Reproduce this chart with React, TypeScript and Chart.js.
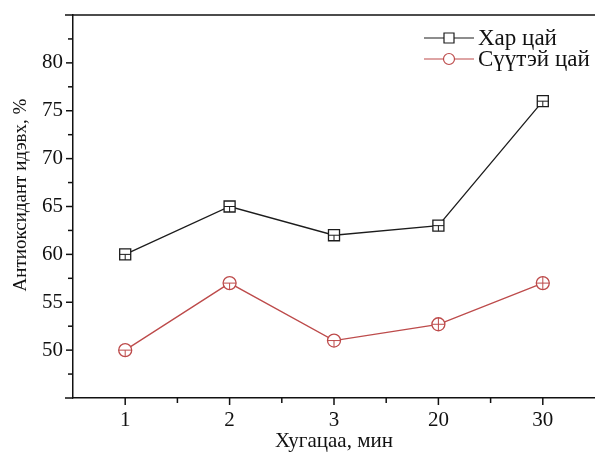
import React, { useEffect, useRef } from "react";
import { Chart, registerables } from "chart.js";

Chart.register(...registerables);

const categories = ["1", "2", "3", "20", "30"];
const blackTea = [60, 65, 62, 63, 76];
const milkTea = [50, 57, 51, 52.7, 57];
const seriesNames = ["Хар цай", "Сүүтэй цай"];
const yTickLabels = [50, 55, 60, 65, 70, 75, 80];
const xTitle = "Хугацаа, мин";
const yTitle = "Антиоксидант идэвх, %";

const BLACK = "#1c1c1c";
const RED = "#bd4b4b";
const FONT = "'Liberation Serif', 'Times New Roman', serif";

export default function App() {
  const ref = useRef<HTMLCanvasElement | null>(null);

  useEffect(() => {
    const canvas = ref.current;
    if (!canvas) return;
    document.body.style.margin = "0";

    const decor = {
      id: "decor",
      afterDraw(chart: any) {
        const ctx = chart.ctx;
        const area = chart.chartArea;
        const xs = chart.scales.x;
        const ys = chart.scales.y;
        ctx.save();
        ctx.strokeStyle = "#111";
        ctx.lineWidth = 1.5;
        // top frame line
        ctx.beginPath();
        ctx.moveTo(area.left - 8, area.top);
        ctx.lineTo(area.right, area.top);
        ctx.stroke();
        // bottom extension
        ctx.beginPath();
        ctx.moveTo(area.left - 8, area.bottom);
        ctx.lineTo(area.left, area.bottom);
        ctx.stroke();
        // y ticks
        for (let v = 47.5; v < 85; v += 2.5) {
          const y = ys.getPixelForValue(v);
          const major = Math.abs(v % 5) < 1e-6;
          ctx.beginPath();
          ctx.moveTo(area.left - (major ? 7 : 5), y);
          ctx.lineTo(area.left, y);
          ctx.stroke();
        }
        // x ticks
        const step = xs.getPixelForValue(1) - xs.getPixelForValue(0);
        for (let i = 0; i < categories.length; i++) {
          const x = xs.getPixelForValue(i);
          ctx.beginPath();
          ctx.moveTo(x, area.bottom);
          ctx.lineTo(x, area.bottom + 7);
          ctx.stroke();
          if (i < categories.length - 1) {
            const xm = x + step / 2;
            ctx.beginPath();
            ctx.moveTo(xm, area.bottom);
            ctx.lineTo(xm, area.bottom + 5);
            ctx.stroke();
          }
        }
        // y title
        ctx.save();
        ctx.translate(21, 195);
        ctx.rotate(-Math.PI / 2);
        ctx.fillStyle = "#111";
        ctx.font = `19px ${FONT}`;
        ctx.textAlign = "center";
        ctx.textBaseline = "middle";
        ctx.fillText(yTitle, 0, 0);
        ctx.restore();
        // error glyphs inside markers
        chart.data.datasets.forEach((ds: any, di: number) => {
          const meta = chart.getDatasetMeta(di);
          ctx.strokeStyle = ds.borderColor;
          ctx.lineWidth = 1;
          meta.data.forEach((pt: any, i: number) => {
            const h = di === 0 ? 5.5 : 6.5;
            const full = di === 1 && i >= 3;
            ctx.beginPath();
            ctx.moveTo(pt.x - h, pt.y);
            ctx.lineTo(pt.x + h, pt.y);
            ctx.moveTo(pt.x, full ? pt.y - h : pt.y);
            ctx.lineTo(pt.x, pt.y + h);
            ctx.stroke();
          });
        });
        // legend
        const lx0 = 424;
        const lx1 = 474;
        const rows = [38, 59];
        chart.data.datasets.forEach((ds: any, di: number) => {
          const y = rows[di];
          ctx.strokeStyle = ds.borderColor;
          ctx.lineWidth = 1.2;
          ctx.beginPath();
          ctx.moveTo(lx0, y);
          ctx.lineTo(lx1, y);
          ctx.stroke();
          const cx = (lx0 + lx1) / 2;
          ctx.fillStyle = "#fff";
          ctx.beginPath();
          if (di === 0) {
            ctx.rect(cx - 5, y - 5, 10, 10);
          } else {
            ctx.arc(cx, y, 5.5, 0, Math.PI * 2);
          }
          ctx.fill();
          ctx.stroke();
          ctx.fillStyle = "#111";
          ctx.font = `23px ${FONT}`;
          ctx.textBaseline = "middle";
          ctx.textAlign = "left";
          ctx.fillText(seriesNames[di], lx1 + 4, y + 1);
        });
        ctx.restore();
      },
    };

    const chart = new Chart(canvas, {
      type: "line",
      data: {
        labels: categories,
        datasets: [
          {
            label: seriesNames[0],
            data: blackTea,
            borderColor: BLACK,
            backgroundColor: "#ffffff",
            borderWidth: 1.3,
            pointStyle: "rect",
            pointRadius: 7.8,
            pointBorderWidth: 1.3,
            pointBorderColor: BLACK,
            pointBackgroundColor: "#ffffff",
            tension: 0,
          },
          {
            label: seriesNames[1],
            data: milkTea,
            borderColor: RED,
            backgroundColor: "#ffffff",
            borderWidth: 1.3,
            pointStyle: "circle",
            pointRadius: 6.5,
            pointBorderWidth: 1.3,
            pointBorderColor: RED,
            pointBackgroundColor: "#ffffff",
            tension: 0,
          },
        ],
      },
      options: {
        responsive: false,
        animation: false,
        layout: { autoPadding: false, padding: { top: 15, right: 0, left: 0, bottom: 0 } },
        plugins: {
          legend: { display: false },
          tooltip: { enabled: false },
        },
        scales: {
          x: {
            type: "category",
            offset: true,
            grid: { display: true, drawOnChartArea: false, drawTicks: false, color: "#111", lineWidth: 1.5 },
            border: { display: true, color: "#111", width: 1.5 },
            ticks: { color: "#111", padding: 10, font: { family: FONT, size: 21 } },
            title: {
              display: true,
              text: xTitle,
              color: "#111",
              padding: { top: 0, bottom: 0 },
              font: { family: FONT, size: 21, lineHeight: 1 },
            },
            afterFit: (s: any) => {
              s.height = 54;
              s.paddingLeft = 0;
              s.paddingRight = 0;
            },
          },
          y: {
            type: "linear",
            min: 45,
            max: 85,
            grid: { display: true, drawOnChartArea: false, drawTicks: false, color: "#111", lineWidth: 1.5 },
            border: { display: true, color: "#111", width: 1.5 },
            ticks: {
              stepSize: 5,
              color: "#111",
              padding: 10,
              font: { family: FONT, size: 21 },
              callback: (v: any) => (yTickLabels.includes(Number(v)) ? String(v) : ""),
            },
            afterFit: (s: any) => {
              s.width = 73;
              s.paddingTop = 0;
              s.paddingBottom = 0;
            },
          },
        },
      },
      plugins: [decor],
    });

    return () => chart.destroy();
  }, []);

  return (
    <div style={{ position: "fixed", left: 0, top: 0, width: 595, height: 452, background: "#fff" }}>
      <canvas ref={ref} width={595} height={452} style={{ display: "block" }} />
    </div>
  );
}
